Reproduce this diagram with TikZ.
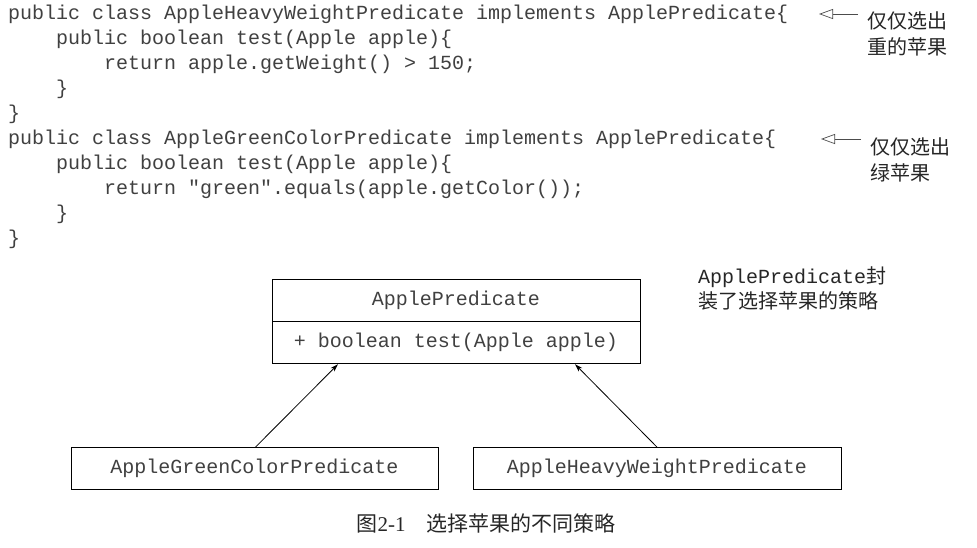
\documentclass[tikz,border=0pt]{standalone}
\usepackage{fontspec}
\usepackage{tikz}
\usetikzlibrary{arrows.meta,positioning}
\setmonofont{Liberation Mono}
\newfontfamily\cjk{Noto Sans CJK SC}
\newfontfamily\capfont{Liberation Serif}

\tikzset{
  codeline/.style={anchor=base west, inner sep=0pt, font=\fontsize{20}{20}\ttfamily, text=black!75},
  notetext/.style={anchor=north west, inner sep=0pt, align=left, font=\fontsize{20}{26}\cjk, text=black!85},
  umlbox/.style={draw, line width=0.8pt, minimum width=368pt, minimum height=42pt, inner sep=0pt,
                 font=\fontsize{20}{20}\ttfamily, text=black!75},
  inherit/.style={-{Stealth[length=8pt,width=5pt]}, line width=0.8pt},
  pointer/.style={-{Triangle[open,length=14pt,width=10pt]}, line width=0.7pt, black!70}
}

\begin{document}
\begin{tikzpicture}[x=1pt,y=-1pt]
    \useasboundingbox (0,0) rectangle (977,547);

    % code, first class
    \node[codeline] (c1) at (8,19)  {public class AppleHeavyWeightPredicate implements ApplePredicate\{};
    \node[codeline] (c2) at (56,44) {public boolean test(Apple apple)\{};
    \node[codeline] (c3) at (104,69) {return apple.getWeight() > 150;};
    \node[codeline] (c4) at (56,94) {\}};
    \node[codeline] (c5) at (8,119) {\}};
    % code, second class
    \node[codeline] (c6) at (8,144) {public class AppleGreenColorPredicate implements ApplePredicate\{};
    \node[codeline] (c7) at (56,169) {public boolean test(Apple apple)\{};
    \node[codeline] (c8) at (104,194) {return "green".equals(apple.getColor());};
    \node[codeline] (c9) at (56,219) {\}};
    \node[codeline] (c10) at (8,244) {\}};

    % notes on the right
    \node[notetext] (heavy) at (867,12) {仅仅选出\\重的苹果};
    \node[notetext] (green) at (870,138) {仅仅选出\\绿苹果};
    \coordinate (T1) at (819,14);
    \coordinate (T2) at (821,139);
    \draw[pointer] (heavy.west |- T1) ++(-9,0) -- (T1);
    \draw[pointer] (green.west |- T2) ++(-9,0) -- (T2);

    % class diagram
    \node[umlbox] (pred) at (456,300) {ApplePredicate};
    \node[umlbox, below=0pt of pred] (predop) {+ boolean test(Apple apple)};
    \node[umlbox, minimum width=367pt] (greencls) at (254.5,468.5) {AppleGreenColorPredicate};
    \node[umlbox, minimum width=368pt] (heavycls) at (657,468.5) {AppleHeavyWeightPredicate};

    \node[notetext, font=\fontsize{20}{25}\cjk] (strategy) at (698,266) {{\ttfamily ApplePredicate}封\\装了选择苹果的策略};

    \draw[inherit] ([xshift=1pt]greencls.north) -- ([xshift=-118pt]predop.south);
    \draw[inherit] (heavycls.north) -- ([xshift=119pt]predop.south);

    % caption
    \node[inner sep=0pt, font=\fontsize{21}{21}\cjk, text=black!85] (caption) at (486,523) {图{\capfont 2-1}\hspace{1em}选择苹果的不同策略};
\end{tikzpicture}
\end{document}
